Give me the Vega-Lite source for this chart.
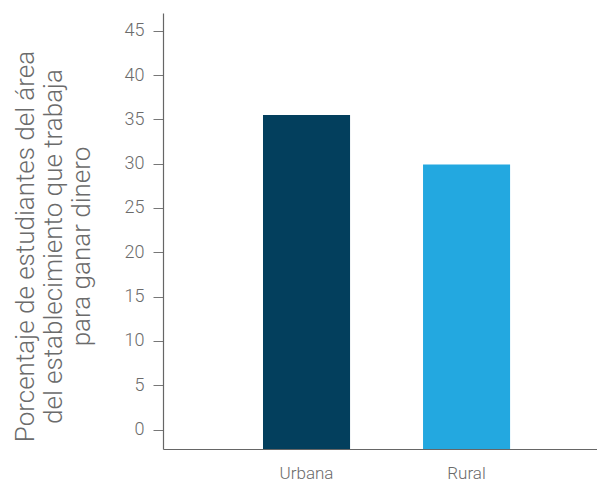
{
  "$schema": "https://vega.github.io/schema/vega-lite/v6.json",
  "width": 434,
  "height": 436,
  "autosize": {"type": "none"},
  "padding": {"left": 163, "top": 13, "right": 0, "bottom": 32},
  "background": "white",
  "config": {
    "view": {"stroke": null},
    "font": "Roboto",
    "axis": {"grid": false}
  },
  "data": {
    "values": [
      {"area": "Urbana", "pct": 35.5},
      {"area": "Rural", "pct": 29.9}
    ]
  },
  "mark": {"type": "bar"},
  "encoding": {
    "x": {
      "field": "area",
      "type": "nominal",
      "sort": ["Urbana", "Rural"],
      "scale": {"paddingInner": 0.456, "paddingOuter": 0.584, "align": 0.535},
      "axis": {
        "title": null,
        "labelAngle": 0,
        "ticks": false,
        "labelPadding": 16,
        "labelFontSize": 17,
        "labelFont": "Roboto",
        "labelFontWeight": 300,
        "labelColor": "#6b6b6b",
        "domainColor": "#666666",
        "domainWidth": 1.2
      }
    },
    "y": {
      "field": "pct",
      "type": "quantitative",
      "scale": {"domain": [-2.2, 47], "nice": false, "zero": false},
      "axis": {
        "values": [0, 5, 10, 15, 20, 25, 30, 35, 40, 45],
        "title": ["Porcentaje de estudiantes del área", "del establecimiento que trabaja", "para ganar dinero"],
        "titleFont": "Roboto",
        "titleFontWeight": 300,
        "titleFontSize": 26,
        "titleColor": "#6b6b6b",
        "titleLineHeight": 28,
        "titlePadding": 30,
        "titleY": 233,
        "labelFontSize": 18,
        "labelFont": "Roboto",
        "labelFontWeight": 300,
        "labelColor": "#6b6b6b",
        "labelPadding": 9,
        "tickSize": 10,
        "tickColor": "#777777",
        "domainColor": "#666666",
        "domainWidth": 1.2
      }
    },
    "y2": {"datum": -2.2},
    "color": {
      "field": "area",
      "type": "nominal",
      "scale": {"domain": ["Urbana", "Rural"], "range": ["#033F5D", "#23A8E0"]},
      "legend": null
    }
  }
}
